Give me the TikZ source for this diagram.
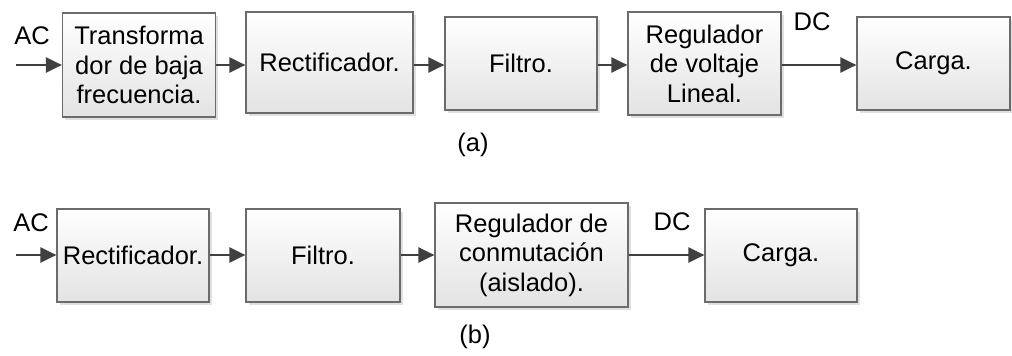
\documentclass[tikz,border=0pt]{standalone}
\usepackage{fontspec}
\setmainfont{Liberation Sans}
\usetikzlibrary{arrows.meta,shadows}
\definecolor{boxline}{HTML}{6B6B6B}
\definecolor{arrowc}{HTML}{404040}
\begin{document}
\begin{tikzpicture}[x=1pt,y=-1pt,
  blk/.style={draw=boxline, line width=1.2pt, top color=white, bottom color=black!11,
    drop shadow={shadow xshift=2.5pt, shadow yshift=-2.5pt, fill=black!12, opacity=1},
    align=center, inner sep=0pt, font=\fontsize{25.5}{29.5}\selectfont},
  arr/.style={draw=arrowc, line width=2.4pt, -{Triangle[length=16pt,width=15pt]}, fill=arrowc},
  lbl/.style={font=\fontsize{25.5}{29.5}\selectfont, inner sep=0pt}]
\useasboundingbox (0,0) rectangle (1012,356);
% row (a)
\node[blk, minimum width=153pt, minimum height=104pt] (t1) at (139,65) {Transforma\\dor de baja\\frecuencia.};
\node[blk, minimum width=167pt, minimum height=101pt] (t2) at (329.5,62.5) {Rectificador.};
\node[blk, minimum width=152pt, minimum height=93pt] (t3) at (521,63.5) {Filtro.};
\node[blk, minimum width=153pt, minimum height=103pt] (t4) at (704.5,63.5) {Regulador\\de voltaje\\Lineal.};
\node[blk, minimum width=153pt, minimum height=93pt] (t5) at (933.5,63.5) {Carga.};
\coordinate (tin) at (16,65);
\node[lbl] (tac) at (32,36) {AC};
\node[lbl] (tdc) at (812,22) {DC};
\node[lbl] (la) at (473,145) {(a)};
\draw[arr] (tin) -- (t1.west |- tin);
\draw[arr] (t1.east |- tin) -- (t2.west |- tin);
\draw[arr] (t2.east |- tin) -- (t3.west |- tin);
\draw[arr] (t3.east |- tin) -- (t4.west |- tin);
\draw[arr] (t4.east |- tin) -- (t5.west |- tin);
% row (b)
\node[blk, minimum width=152pt, minimum height=93pt] (b1) at (133,255.5) {Rectificador.};
\node[blk, minimum width=154pt, minimum height=93pt] (b2) at (323,255.5) {Filtro.};
\node[blk, minimum width=193pt, minimum height=104pt] (b3) at (531.5,255) {Regulador de\\conmutación\\(aislado).};
\node[blk, minimum width=152pt, minimum height=93pt] (b4) at (781,255.5) {Carga.};
\coordinate (bin) at (16,255);
\node[lbl] (bac) at (31,223) {AC};
\node[lbl] (bdc) at (672,222) {DC};
\node[lbl] (lb) at (475,337) {(b)};
\draw[arr] (bin) -- (b1.west |- bin);
\draw[arr] (b1.east |- bin) -- (b2.west |- bin);
\draw[arr] (b2.east |- bin) -- (b3.west |- bin);
\draw[arr] (b3.east |- bin) -- (b4.west |- bin);
\end{tikzpicture}
\end{document}
